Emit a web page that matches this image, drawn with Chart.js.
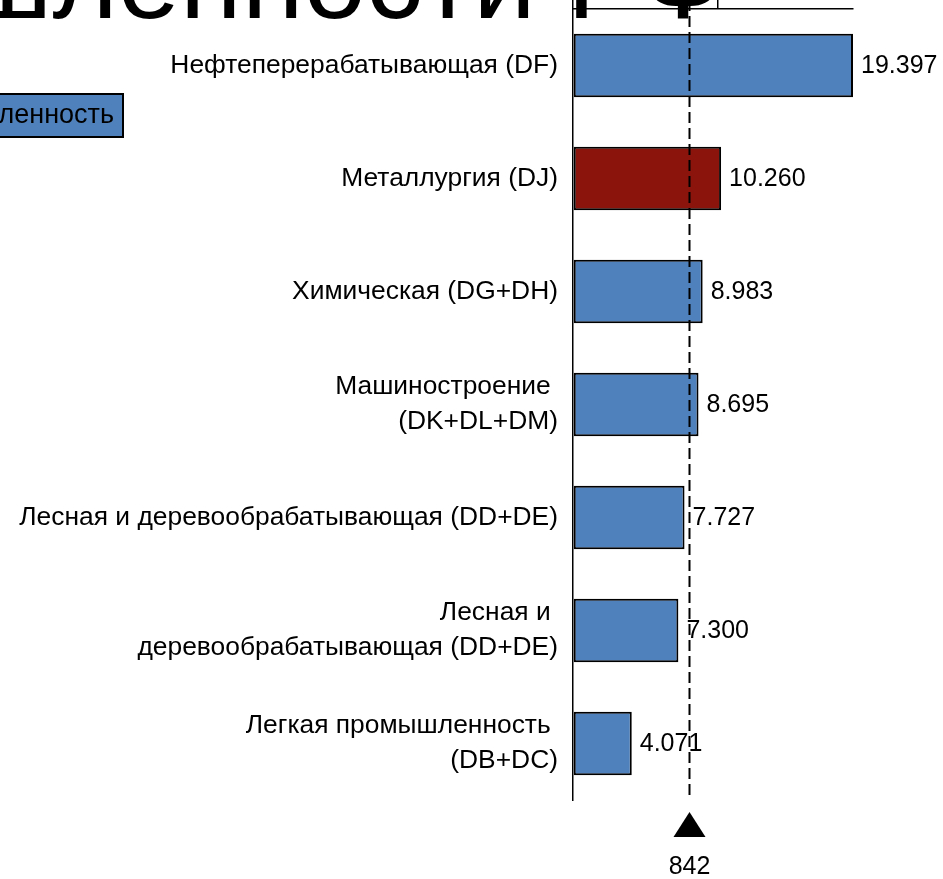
<!DOCTYPE html>
<html>
<head>
<meta charset="utf-8">
<script src="https://cdn.jsdelivr.net/npm/chart.js@4.4.1/dist/chart.umd.min.js"></script>
<style>
  html, body { margin: 0; padding: 0; background: #fff; }
  #wrap { width: 943px; height: 879px; position: relative; }
</style>
</head>
<body>
<div id="wrap"><canvas id="c" width="943" height="879"></canvas></div>
<script>
const titleText = 'промышленности РФ';
const legendText = 'Промышленность';
const categories = [
  ['Нефтеперерабатывающая (DF)'],
  ['Металлургия (DJ)'],
  ['Химическая (DG+DH)'],
  ['Машиностроение ', '(DK+DL+DM)'],
  ['Лесная и деревообрабатывающая (DD+DE)'],
  ['Лесная и ', 'деревообрабатывающая (DD+DE)'],
  ['Легкая промышленность ', '(DB+DC)']
];
const values = [19.397, 10.260, 8.983, 8.695, 7.727, 7.300, 4.071];
const highlightedCategory = 'Металлургия (DJ)';
const referenceValue = 8.04;
const referenceLabel = '842';

const FONT = '"Liberation Sans", Arial, sans-serif';
const BLUE = '#4F81BD';
const RED = '#8B150D';

const barColors = categories.map(c => c.join('').trim() === highlightedCategory ? RED : BLUE);

const titlePlugin = {
  id: 'titlePlugin',
  beforeDraw(chart) {
    const ctx = chart.ctx;
    ctx.save();
    ctx.fillStyle = '#000';
    ctx.font = '112px ' + FONT;
    ctx.textBaseline = 'alphabetic';
    ctx.textAlign = 'left';
    const parts = titleText.split(' ');
    parts.pop();
    const first = parts.join(' ') + ' ';
    const xLast = 567;
    const x0 = xLast - ctx.measureText(first).width;
    ctx.fillText(titleText, x0, 18);
    // legend box
    ctx.font = '27px ' + FONT;
    ctx.fillStyle = BLUE;
    ctx.fillRect(-50, 94, 173, 43);
    ctx.lineWidth = 2;
    ctx.strokeStyle = '#000';
    ctx.strokeRect(-50, 94, 173, 43);
    ctx.fillStyle = '#000';
    ctx.textAlign = 'right';
    ctx.textBaseline = 'middle';
    ctx.fillText(legendText, 114, 116);
    ctx.restore();
  }
};

const overlayPlugin = {
  id: 'overlayPlugin',
  afterDatasetsDraw(chart) {
    const ctx = chart.ctx;
    const xs = chart.scales.x;
    const area = chart.chartArea;
    ctx.save();
    ctx.font = '25px ' + FONT;
    ctx.fillStyle = '#000';
    ctx.textAlign = 'left';
    ctx.textBaseline = 'middle';
    const meta = chart.getDatasetMeta(0);
    meta.data.forEach((bar, i) => {
      ctx.fillText(values[i].toFixed(3), bar.x + 8, bar.y + 1);
    });
    const rx = Math.round(xs.getPixelForValue(referenceValue)) + 0.5;
    ctx.strokeStyle = '#000';
    ctx.lineWidth = 2;
    ctx.setLineDash([11, 5]);
    ctx.beginPath();
    ctx.moveTo(rx, 0);
    ctx.lineTo(rx, area.bottom);
    ctx.stroke();
    ctx.setLineDash([]);
    ctx.beginPath();
    ctx.moveTo(rx, area.bottom + 12);
    ctx.lineTo(rx + 16, area.bottom + 37);
    ctx.lineTo(rx - 16, area.bottom + 37);
    ctx.closePath();
    ctx.fill();
    ctx.textAlign = 'center';
    ctx.textBaseline = 'alphabetic';
    ctx.fillText(referenceLabel, rx, area.bottom + 74);
    ctx.restore();
  }
};

new Chart(document.getElementById('c'), {
  type: 'bar',
  data: {
    labels: categories,
    datasets: [{
      data: values,
      backgroundColor: barColors,
      borderColor: '#000',
      borderWidth: 2,
      borderSkipped: false,
      categoryPercentage: 1,
      barPercentage: 0.56
    }]
  },
  options: {
    indexAxis: 'y',
    responsive: false,
    animation: false,
    layout: { padding: { left: 0, right: 90, top: 0, bottom: 79 } },
    plugins: {
      legend: { display: false },
      tooltip: { enabled: false },
      title: { display: false }
    },
    scales: {
      x: {
        position: 'top',
        min: 0,
        max: Math.max(...values),
        ticks: { display: false, stepSize: 10, includeBounds: false },
        grid: { display: true, drawOnChartArea: false, drawTicks: true, tickLength: 9, color: '#000', lineWidth: 1.5 },
        border: { display: true, color: '#000', width: 1.5 },
        afterFit(scale) { scale.height = 9; scale.paddingLeft = 0; scale.paddingRight = 0; }
      },
      y: {
        ticks: {
          color: '#000',
          padding: 15,
          font: { family: FONT, size: 26.4, lineHeight: 1.33 }
        },
        grid: { display: false, drawTicks: false },
        border: { display: true, color: '#000', width: 1.5 },
        afterFit(scale) { scale.width = 573; scale.paddingTop = 0; scale.paddingBottom = 0; }
      }
    }
  },
  plugins: [titlePlugin, overlayPlugin]
});
</script>
</body>
</html>
